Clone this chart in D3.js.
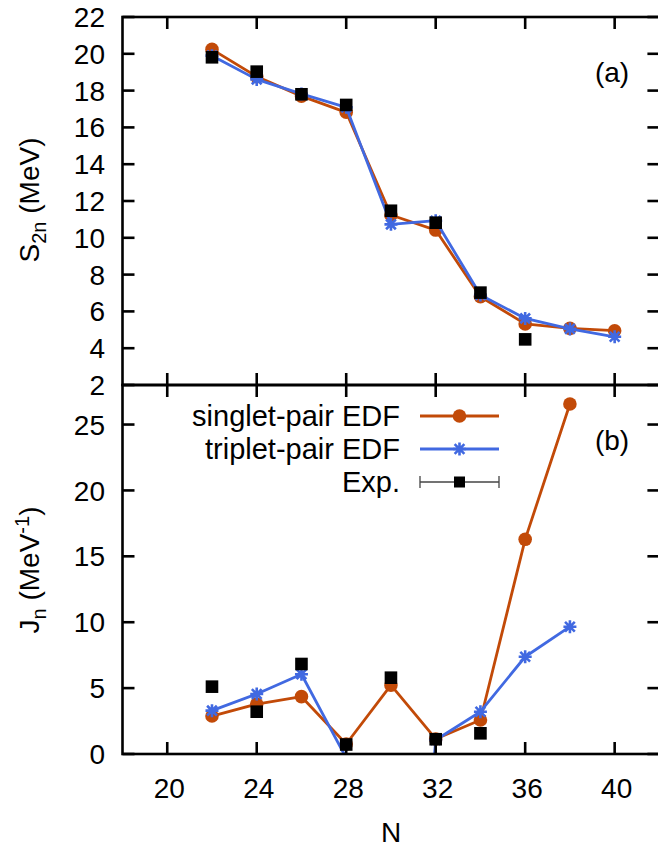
<!DOCTYPE html>
<html>
<head>
<meta charset="utf-8">
<script src="https://cdn.jsdelivr.net/npm/d3@7"></script>
<style>
  html, body { margin: 0; padding: 0; background: #fff; }
  svg { display: block; }
  text { font-family: "Liberation Sans", Arial, Helvetica, sans-serif; fill: #000; }
</style>
</head>
<body>
<svg id="chart" width="658" height="849"></svg>
<script>
// Neutron number grid
const xTicks = [20, 24, 28, 32, 36, 40];

// (a) two-neutron separation energy S2n (MeV)
const nTop = [22, 24, 26, 28, 30, 32, 34, 36, 38, 40];
const s2nSinglet = [20.24, 18.76, 17.70, 16.82, 11.24, 10.42, 6.80, 5.32, 5.08, 4.95];
const s2nTriplet = [19.90, 18.61, 17.82, 17.09, 10.73, 10.93, 6.89, 5.62, 5.05, 4.62];
const nTopExp = [22, 24, 26, 28, 30, 32, 34, 36];
const s2nExp = [19.81, 19.03, 17.80, 17.22, 11.47, 10.82, 7.02, 4.48];
const yTicksTop = [2, 4, 6, 8, 10, 12, 14, 16, 18, 20, 22];

// (b) J_n (MeV^-1)
const nBot = [22, 24, 26, 28, 30, 32, 34, 36, 38];
const jnSinglet = [2.88, 3.79, 4.35, 0.76, 5.23, 1.14, 2.58, 16.29, 26.56];
const jnTriplet = [3.29, 4.55, 6.05, -0.3, -40, 1.06, 3.21, 7.38, 9.66];
const nBotExp = [22, 24, 26, 28, 30, 32, 34];
const jnExp = [5.11, 3.21, 6.83, 0.72, 5.79, 1.12, 1.57];
const yTicksBot = [0, 5, 10, 15, 20, 25];

const seriesNames = ["singlet-pair EDF", "triplet-pair EDF", "Exp."];
const colSinglet = "#c24a08";
const colTriplet = "#4169e1";

const svg = d3.select("#chart");
const left = 122.5, right = 659.4;
const x = d3.scaleLinear().domain([18, 42]).range([left, right]);
const yTop = d3.scaleLinear().domain([2, 22]).range([385, 17]);
const yBot = d3.scaleLinear().domain([0, 28]).range([754, 385]);

const tickLen = 12, frameW = 2.6, fs = 28;

function drawStar(g, cx, cy, s, color) {
  const p = d3.path();
  p.moveTo(cx - s, cy); p.lineTo(cx + s, cy);
  p.moveTo(cx, cy - s); p.lineTo(cx, cy + s);
  const d = s * 0.75;
  p.moveTo(cx - d, cy - d); p.lineTo(cx + d, cy + d);
  p.moveTo(cx - d, cy + d); p.lineTo(cx + d, cy - d);
  g.append("path").attr("d", p.toString()).attr("stroke", color)
    .attr("stroke-width", 2.6).attr("fill", "none");
}

function panel(id, y, yTicks, data, label) {
  const [y0, y1] = y.range();
  const g = svg.append("g");
  const clipId = "clip-" + id;
  svg.append("clipPath").attr("id", clipId).append("rect")
    .attr("x", left).attr("y", y1).attr("width", right - left).attr("height", y0 - y1);

  const inner = g.append("g").attr("clip-path", `url(#${clipId})`);
  const line = d3.line().x(d => x(d[0])).y(d => y(d[1]));
  const dom = y.domain();
  const inside = d => d[1] >= dom[0] && d[1] <= dom[1];

  // singlet-pair EDF
  const sing = d3.zip(data.n, data.singlet);
  inner.append("path").attr("d", line(sing)).attr("fill", "none")
    .attr("stroke", colSinglet).attr("stroke-width", 2.8).attr("stroke-linejoin", "round");
  sing.filter(inside).forEach(d => inner.append("circle")
    .attr("cx", x(d[0])).attr("cy", y(d[1])).attr("r", 6.8).attr("fill", colSinglet));

  // triplet-pair EDF
  const trip = d3.zip(data.n, data.triplet);
  inner.append("path").attr("d", line(trip)).attr("fill", "none")
    .attr("stroke", colTriplet).attr("stroke-width", 2.8).attr("stroke-linejoin", "round");
  trip.filter(inside).forEach(d => drawStar(inner, x(d[0]), y(d[1]), 6.5, colTriplet));

  // experiment
  const ex = d3.zip(data.nExp, data.exp);
  ex.filter(inside).forEach(d => inner.append("rect")
    .attr("x", x(d[0]) - 6.3).attr("y", y(d[1]) - 6.3)
    .attr("width", 12.6).attr("height", 12.6).attr("fill", "#000"));

  // frame
  g.append("rect").attr("x", left).attr("y", y1).attr("width", right - left).attr("height", y0 - y1)
    .attr("fill", "none").attr("stroke", "#000").attr("stroke-width", frameW);

  // x ticks (bottom and top, inward)
  xTicks.forEach(t => {
    g.append("line").attr("x1", x(t)).attr("x2", x(t)).attr("y1", y0).attr("y2", y0 - tickLen)
      .attr("stroke", "#000").attr("stroke-width", frameW);
    g.append("line").attr("x1", x(t)).attr("x2", x(t)).attr("y1", y1).attr("y2", y1 + tickLen)
      .attr("stroke", "#000").attr("stroke-width", frameW);
  });
  // y ticks (left and right, inward) with labels on the left
  yTicks.forEach(t => {
    g.append("line").attr("x1", left).attr("x2", left + tickLen).attr("y1", y(t)).attr("y2", y(t))
      .attr("stroke", "#000").attr("stroke-width", frameW);
    g.append("line").attr("x1", right).attr("x2", right - tickLen).attr("y1", y(t)).attr("y2", y(t))
      .attr("stroke", "#000").attr("stroke-width", frameW);
    g.append("text").attr("x", 105).attr("y", y(t)).attr("dy", "0.36em")
      .attr("text-anchor", "end").attr("font-size", fs).text(t);
  });

  // panel tag
  g.append("text").attr("x", 612).attr("y", label.y).attr("dy", "0.36em")
    .attr("text-anchor", "middle").attr("font-size", fs).text(label.text);
  return g;
}

panel("top", yTop, yTicksTop,
  { n: nTop, singlet: s2nSinglet, triplet: s2nTriplet, nExp: nTopExp, exp: s2nExp },
  { text: "(a)", y: 72 });
panel("bot", yBot, yTicksBot,
  { n: nBot, singlet: jnSinglet, triplet: jnTriplet, nExp: nBotExp, exp: jnExp },
  { text: "(b)", y: 440 });

// x tick labels
xTicks.forEach(t => {
  svg.append("text").attr("x", x(t) + 2).attr("y", 798).attr("text-anchor", "middle")
    .attr("font-size", fs).text(t);
});
svg.append("text").attr("x", 391).attr("y", 842).attr("text-anchor", "middle")
  .attr("font-size", fs).text("N");

// y axis titles
const tTop = svg.append("text").attr("transform", "translate(39,200) rotate(-90)")
  .attr("text-anchor", "middle").attr("font-size", fs);
tTop.append("tspan").text("S");
tTop.append("tspan").attr("font-size", 20).attr("dy", 7).text("2n");
tTop.append("tspan").attr("dy", -7).text(" (MeV)");

const tBot = svg.append("text").attr("transform", "translate(39,570) rotate(-90)")
  .attr("text-anchor", "middle").attr("font-size", fs);
tBot.append("tspan").text("J");
tBot.append("tspan").attr("font-size", 20).attr("dy", 7).text("n");
tBot.append("tspan").attr("dy", -7).text(" (MeV");
tBot.append("tspan").attr("font-size", 20).attr("dy", -10).text("-1");
tBot.append("tspan").attr("dy", 10).text(")");

// legend
const legY = [416, 449, 482];
const lx0 = 420, lx1 = 499, lxm = 459.5;
seriesNames.forEach((name, i) => {
  svg.append("text").attr("x", 400).attr("y", legY[i]).attr("dy", "0.36em")
    .attr("text-anchor", "end").attr("font-size", 29).text(name);
});
svg.append("line").attr("x1", lx0).attr("x2", lx1).attr("y1", legY[0]).attr("y2", legY[0])
  .attr("stroke", colSinglet).attr("stroke-width", 2.8);
svg.append("circle").attr("cx", lxm).attr("cy", legY[0]).attr("r", 6.8).attr("fill", colSinglet);
svg.append("line").attr("x1", lx0).attr("x2", lx1).attr("y1", legY[1]).attr("y2", legY[1])
  .attr("stroke", colTriplet).attr("stroke-width", 2.8);
drawStar(svg, lxm, legY[1], 6.5, colTriplet);
const eb = svg.append("g").attr("stroke", "#444").attr("stroke-width", 1.3);
eb.append("line").attr("x1", lx0).attr("x2", lx1).attr("y1", legY[2]).attr("y2", legY[2]);
eb.append("line").attr("x1", lx0).attr("x2", lx0).attr("y1", legY[2] - 6).attr("y2", legY[2] + 6);
eb.append("line").attr("x1", lx1).attr("x2", lx1).attr("y1", legY[2] - 6).attr("y2", legY[2] + 6);
svg.append("rect").attr("x", lxm - 5.5).attr("y", legY[2] - 5.5).attr("width", 11).attr("height", 11)
  .attr("fill", "#000");
</script>
</body>
</html>
